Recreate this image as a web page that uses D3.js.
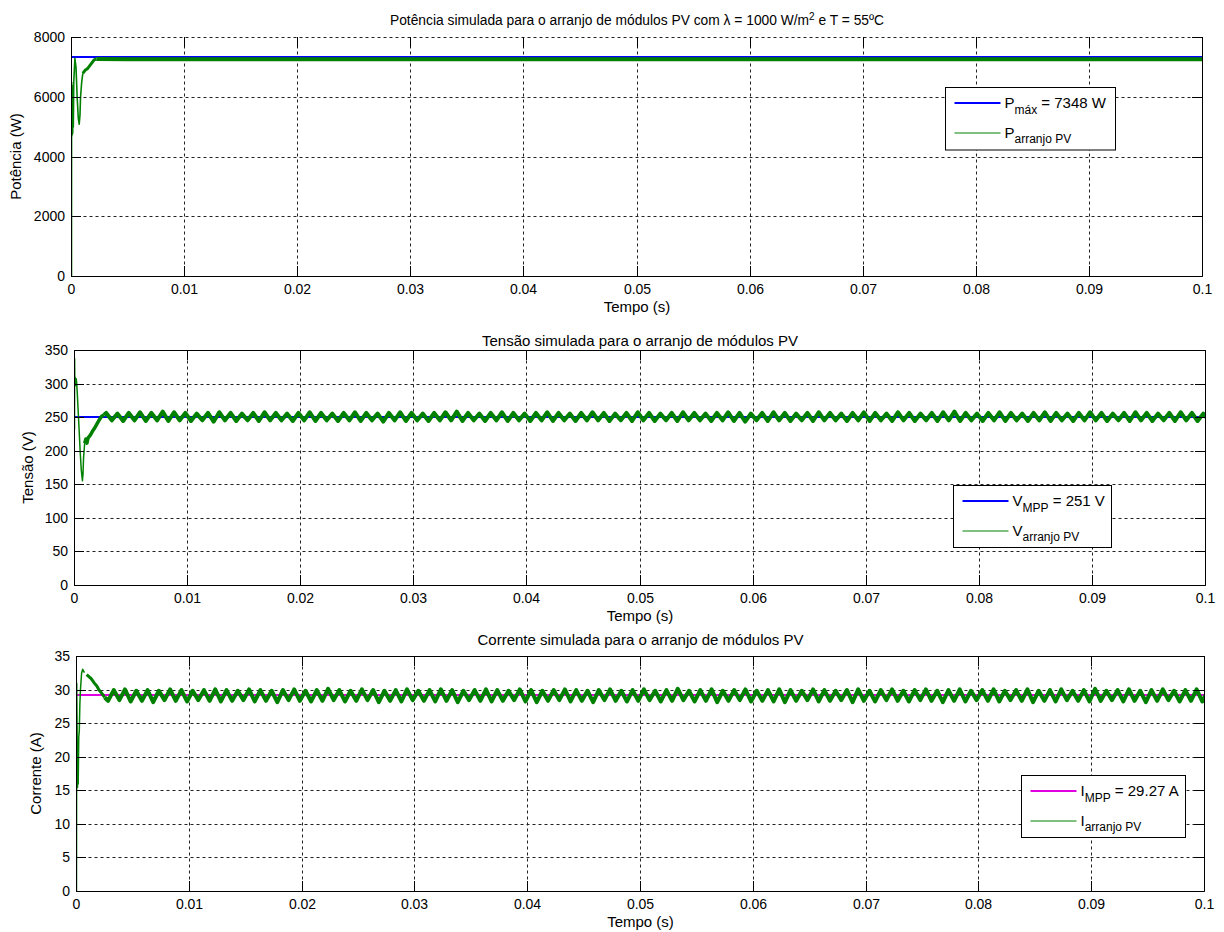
<!DOCTYPE html>
<html><head><meta charset="utf-8">
<script src="https://cdn.jsdelivr.net/npm/d3@7"></script>
<style>
body{margin:0;background:#fff}
text{font-family:"Liberation Sans",Arial,Helvetica,sans-serif;fill:#000}
</style>
</head><body>
<svg id="c" width="1224" height="932"></svg>
<script>
// ---------- data ----------
const timeTicks = [0,0.01,0.02,0.03,0.04,0.05,0.06,0.07,0.08,0.09,0.1];
const timeTickLabels = ["0","0.01","0.02","0.03","0.04","0.05","0.06","0.07","0.08","0.09","0.1"];
const powerTicks = [0,2000,4000,6000,8000];
const voltageTicks = [0,50,100,150,200,250,300,350];
const currentTicks = [0,5,10,15,20,25,30,35];

const powerMax = 7348;     // W
const voltageMpp = 251;    // V
const currentMpp = 29.27;  // A

// start-up transient (time in s)
const powerTime = [0,0.00001,0.00003,0.00005,0.00007,0.00009,0.00011,0.00013,0.00016,0.0002,0.00025,0.0003,0.00035,0.0004,0.00045,0.0005,0.0006,0.00068,0.00075,0.0008,0.0009,0.001,0.0012,0.0014,0.0016,0.0018,0.002,0.0022,0.005,0.01,0.015,0.02,0.025,0.03,0.035,0.04,0.045,0.05,0.055,0.06,0.065,0.07,0.075,0.08,0.085,0.09,0.095,0.1];
const powerValues = [0,6500,4700,6400,4750,6300,4800,6200,5000,6500,6900,7300,7150,7000,6500,6000,5300,5100,5400,6000,6500,6800,6900,6950,7050,7150,7250,7280,7275,7275,7270,7275,7275,7270,7275,7275,7275,7270,7275,7275,7275,7270,7275,7275,7275,7270,7275,7275];

const voltageTime = [0,0.00001,0.00003,0.00006,0.0001,0.00015,0.0002,0.00025,0.0003,0.0004,0.0005,0.0006,0.0007,0.00075,0.0008,0.0009,0.001,0.0011,0.0012,0.0014,0.0016,0.0018,0.002,0.0022,0.0024,0.0026];
const voltageValues = [232,338,300,310,298,308,300,285,268,235,200,172,156,165,190,212,218,212,220,224,230,235,241,247,252,254];

const currentTime = [0,0.00002,0.00005,0.00009,0.00012,0.00015,0.0002,0.00025,0.0003,0.00035,0.00045,0.00055,0.0007,0.0009,0.0011,0.0013,0.0016,0.0018,0.002,0.0023,0.0025];
const currentValues = [0,31,25,15.5,22,16,23,24,28,30,32.5,33.1,32.6,32.3,32,31.7,31,30.6,30,29.4,28.9];

// steady-state ripple: successive peaks/troughs, one every half period
const rippleStart = 0.0028;  // s
const rippleStep = 0.0005;   // s between a peak and the next trough
const voltageRipple = [
  257,246,256,245,257,246,258,245,257,246,259,245,258,246,257,245,256,246,257,244,
  258,246,257,245,256,246,257,245,258,246,257,246,256,245,257,246,258,245,257,246,
  256,245,257,246,258,245,257,246,256,244,257,246,258,245,257,246,256,245,257,246,
  258,246,259,245,257,246,256,245,257,246,258,245,257,246,256,245,257,246,258,245,
  257,246,256,245,257,246,258,246,257,245,256,246,257,245,258,246,257,245,256,246,
  257,245,258,246,257,246,256,245,257,246,258,245,257,244,256,246,257,245,258,246,
  257,245,256,246,257,245,258,246,257,246,256,245,257,246,258,245,257,246,256,245,
  258,246,257,245,256,246,257,245,258,246,259,245,257,246,256,245,257,246,258,245,
  257,246,256,245,257,246,258,245,257,246,256,245,257,246,258,246,257,245,256,246,
  257,245,258,246,257,245,256,246,257,245,258,246,257,245,256,246];
const currentRipple = [
  28.4,30.0,28.5,30.1,28.3,29.9,28.4,30.0,28.2,29.9,28.5,30.1,28.4,30.0,28.3,29.9,28.5,30.0,28.4,30.1,
  28.3,30.0,28.4,29.9,28.5,30.1,28.3,30.0,28.4,29.9,28.2,30.0,28.5,30.1,28.4,29.9,28.3,30.0,28.4,30.2,
  28.5,30.0,28.3,29.9,28.4,30.1,28.5,30.0,28.2,29.9,28.4,30.0,28.3,30.1,28.5,29.9,28.4,30.0,28.3,30.1,
  28.4,30.0,28.2,29.9,28.5,30.0,28.4,30.1,28.3,30.0,28.4,29.9,28.5,30.1,28.3,30.0,28.2,29.9,28.4,30.0,
  28.5,30.1,28.3,30.0,28.4,29.9,28.2,30.0,28.5,30.1,28.4,29.9,28.3,30.0,28.4,30.1,28.5,29.9,28.3,30.0,
  28.4,30.2,28.5,29.9,28.3,30.0,28.4,30.1,28.2,29.9,28.4,30.0,28.5,30.1,28.3,29.9,28.4,30.0,28.3,30.1,
  28.2,30.0,28.4,29.9,28.5,30.1,28.3,30.0,28.4,29.9,28.5,30.0,28.2,30.1,28.4,29.9,28.3,30.0,28.5,30.1,
  28.4,29.9,28.3,30.0,28.5,30.1,28.4,29.9,28.2,30.0,28.4,30.1,28.3,29.9,28.5,30.0,28.4,30.1,28.3,29.9,
  28.5,30.0,28.4,30.1,28.2,29.9,28.4,30.0,28.3,30.1,28.5,29.9,28.4,30.0,28.3,30.2,28.4,29.9,28.5,30.0,
  28.3,30.1,28.4,29.9,28.2,30.0,28.4,30.1,28.5,29.9,28.3,30.0,28.4,30.1,28.3,29.9];

// ---------- drawing ----------
const svg = d3.select("#c");
const GREEN = "#008000";

function withRipple(time, values, ripple) {
  const pts = time.map((t,i)=>[t,values[i]]);
  if (ripple) ripple.forEach((v,i)=>pts.push([rippleStart + i*rippleStep, v]));
  return pts;
}

function drawPanel(cfg) {
  const xr = d3.scaleLinear().domain([0,0.1]).range([cfg.left,cfg.right]).interpolate(d3.interpolateRound);
  const yr = d3.scaleLinear().domain(cfg.yDomain).range([cfg.bottom,cfg.top]).interpolate(d3.interpolateRound);
  const x = d3.scaleLinear().domain([0,0.1]).range([cfg.left+0.5,cfg.right+0.5]);
  const y = d3.scaleLinear().domain(cfg.yDomain).range([cfg.bottom+0.5,cfg.top+0.5]);
  const g = svg.append("g");
  const clipId = "clip"+cfg.id;
  svg.append("clipPath").attr("id",clipId).append("rect")
    .attr("x",cfg.left+0.5).attr("y",cfg.top+0.5)
    .attr("width",cfg.right-cfg.left).attr("height",cfg.bottom-cfg.top);

  // grid
  const grid = g.append("g").attr("stroke","#222").attr("stroke-width",1).attr("stroke-dasharray","3,3").attr("fill","none");
  timeTicks.forEach(t => grid.append("line").attr("x1",xr(t)+0.5).attr("x2",xr(t)+0.5)
      .attr("y1",cfg.bottom+0.5).attr("y2",cfg.top+0.5));
  cfg.yTicks.forEach(v => grid.append("line").attr("y1",yr(v)+0.5).attr("y2",yr(v)+0.5)
      .attr("x1",cfg.left+0.5).attr("x2",cfg.right+0.5));

  // reference line
  const plot = g.append("g").attr("clip-path",`url(#${clipId})`);
  plot.append("path").datum([[0,cfg.refValue],[0.1,cfg.refValue]])
    .attr("d", d3.line().x(d=>x(d[0])).y(d=>y(d[1])))
    .attr("stroke",cfg.refColor).attr("stroke-width",2).attr("fill","none");

  // measured series, drawn by segments of different apparent thickness
  const pts = cfg.points;
  const line = d3.line().x(d=>x(d[0])).y(d=>y(d[1]));
  cfg.segments.forEach(([t0,t1,w]) => {
    const seg = pts.filter(d=>d[0]>=t0 && d[0]<=t1);
    plot.append("path").datum(seg).attr("d",line)
      .attr("stroke",GREEN).attr("stroke-width",w).attr("fill","none")
      .attr("stroke-linejoin","round");
  });

  // axes
  const fontSize = 14;
  const ax = g.append("g");
  const bottomAxis = d3.axisBottom(xr).tickValues(timeTicks).tickFormat((d,i)=>timeTickLabels[i])
      .tickSizeInner(-10).tickSizeOuter(0).tickPadding(8);
  const leftAxis = d3.axisLeft(yr).tickValues(cfg.yTicks).tickFormat(d3.format("d"))
      .tickSizeInner(-10).tickSizeOuter(0).tickPadding(6);
  const topAxis = d3.axisTop(xr).tickValues(timeTicks).tickFormat("").tickSizeInner(-10).tickSizeOuter(0);
  const rightAxis = d3.axisRight(yr).tickValues(cfg.yTicks).tickFormat("").tickSizeInner(-10).tickSizeOuter(0);
  const styleAxis = s => { s.selectAll("text").attr("fill","#000").attr("font-size",fontSize)
      .attr("font-family",'"Liberation Sans",Arial,sans-serif');
    s.selectAll("line,path").attr("stroke","#000"); };
  ax.append("g").attr("transform",`translate(0,${cfg.bottom})`).call(bottomAxis).call(styleAxis);
  ax.append("g").attr("transform",`translate(${cfg.left},0)`).call(leftAxis).call(styleAxis);
  const ta = ax.append("g").attr("transform",`translate(0,${cfg.top})`).call(topAxis).call(styleAxis);
  if (cfg.dashedTop) ta.select(".domain").remove();
  ax.append("g").attr("transform",`translate(${cfg.right},0)`).call(rightAxis).call(styleAxis);

  const cx = (cfg.left+cfg.right)/2 + 0.5;
  const title = g.append("text").attr("x",cx).attr("y",cfg.titleY).attr("text-anchor","middle").attr("font-size",cfg.titleSize);
  cfg.title(title);
  g.append("text").attr("x",cx).attr("y",cfg.bottom+36).attr("text-anchor","middle").attr("font-size",15).text("Tempo (s)");
  g.append("text").attr("transform",`translate(${cfg.ylabelX},${(cfg.top+cfg.bottom)/2}) rotate(-90)`)
    .attr("text-anchor","middle").attr("font-size",15).text(cfg.ylabel);

  // legend
  const L = cfg.legend;
  const lg = g.append("g");
  lg.append("rect").attr("x",L.x).attr("y",L.y).attr("width",L.w).attr("height",L.h)
    .attr("fill","#fff").attr("stroke","#000").attr("stroke-width",1);
  L.rows.forEach((r,i) => {
    const ry = L.y + (i===0 ? 15.5 : 45);
    const ly = r.w>1 ? ry : Math.round(ry);
    lg.append("line").attr("x1",L.x+9).attr("x2",L.x+55).attr("y1",ly).attr("y2",ly)
      .attr("stroke",r.color).attr("stroke-width",r.w);
    const t = lg.append("text").attr("x",L.x+59).attr("y",ry+5).attr("font-size",15);
    t.append("tspan").text(r.main);
    t.append("tspan").attr("font-size",12).attr("dy",5.5).text(r.sub);
    if (r.rest) t.append("tspan").attr("font-size",15).attr("dy",-5.5).text(r.rest);
  });
}

drawPanel({
  id:1, left:71, right:1202, top:37, bottom:276, yDomain:[0,8000], yTicks:powerTicks, dashedTop:true,
  refValue:powerMax, refColor:"#0000ff", points:withRipple(powerTime,powerValues,null),
  segments:[[0,0.001,1.6],[0.001,0.0022,3],[0.0022,0.1,4]],
  titleY:25, titleSize:13.8, ylabel:"Potência (W)", ylabelX:21,
  title: t => { t.append("tspan").text("Potência simulada para o arranjo de módulos PV com λ = 1000 W/m");
    t.append("tspan").attr("font-size",10).attr("dy",-5.5).text("2");
    t.append("tspan").attr("dy",5.5).text(" e T = 55ºC"); },
  legend:{x:945.5,y:87.5,w:170,h:62.5,rows:[
    {color:"#0000ff",w:2,main:"P",sub:"máx",rest:" = 7348 W"},
    {color:"#008000",w:1,main:"P",sub:"arranjo PV"}]}
});
drawPanel({
  id:2, left:74, right:1205, top:350, bottom:585, yDomain:[0,350], yTicks:voltageTicks,
  refValue:voltageMpp, refColor:"#0000ff", points:withRipple(voltageTime,voltageValues,voltageRipple),
  segments:[[0,0.0009,1.5],[0.0009,0.0026,3.5],[0.0026,0.11,4]],
  titleY:346, titleSize:15, ylabel:"Tensão (V)", ylabelX:33,
  title: t => t.text("Tensão simulada para o arranjo de módulos PV"),
  legend:{x:953.5,y:485.5,w:158,h:62,rows:[
    {color:"#0000ff",w:2,main:"V",sub:"MPP",rest:" = 251 V"},
    {color:"#008000",w:1,main:"V",sub:"arranjo PV"}]}
});
drawPanel({
  id:3, left:76, right:1204, top:656, bottom:891, yDomain:[0,35], yTicks:currentTicks,
  refValue:currentMpp, refColor:"#e000e0", points:withRipple(currentTime,currentValues,currentRipple),
  segments:[[0,0.0008,1.5],[0.0008,0.0025,3],[0.0025,0.11,4]],
  titleY:645, titleSize:15, ylabel:"Corrente (A)", ylabelX:41,
  title: t => t.text("Corrente simulada para o arranjo de módulos PV"),
  legend:{x:1021.5,y:775.5,w:164,h:62,rows:[
    {color:"#e000e0",w:2,main:"I",sub:"MPP",rest:" = 29.27 A"},
    {color:"#008000",w:1,main:"I",sub:"arranjo PV"}]}
});
</script>
</body></html>
